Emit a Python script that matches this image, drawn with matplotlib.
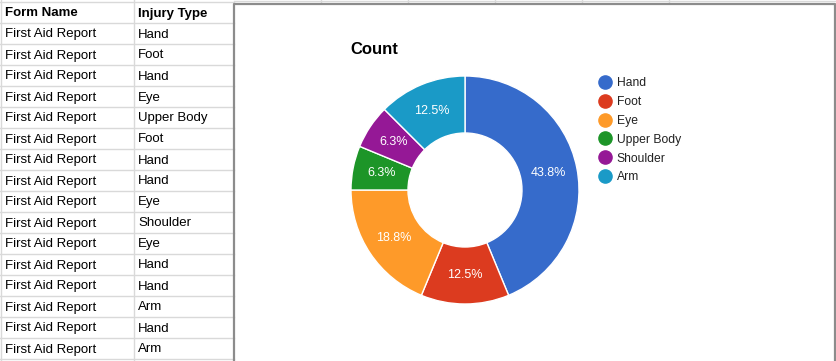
import numpy as np
import matplotlib.pyplot as plt
from matplotlib.lines import Line2D

plt.rcParams['font.family'] = ['Liberation Sans', 'DejaVu Sans']

# sheet data
col_headers = ['Form Name', 'Injury Type']
form_names = ['First Aid Report'] * 16
injury_types = ['Hand', 'Foot', 'Hand', 'Eye', 'Upper Body', 'Foot', 'Hand', 'Hand',
                'Eye', 'Shoulder', 'Eye', 'Hand', 'Hand', 'Arm', 'Hand', 'Arm']

# chart data
categories = ['Hand', 'Foot', 'Eye', 'Upper Body', 'Shoulder', 'Arm']
counts = [injury_types.count(c) for c in categories]
colors = ['#366bcb', '#dc3b1f', '#fe9a29', '#1d9528', '#951896', '#1a9ac7']

W, H = 836, 361
fig = plt.figure(figsize=(W/100, H/100), dpi=100)

# background axes in pixel coordinates for the spreadsheet grid
bg = fig.add_axes([0, 0, 1, 1])
bg.set_xlim(0, W)
bg.set_ylim(H, 0)
bg.axis('off')

grid_c = '#d9d9d9'
row_h = 21
top = 2
for k in range(len(form_names) + 2):
    y = top + k*row_h
    bg.plot([0, 234], [y, y], color=grid_c, lw=1)
for x in [0.5, 133.5]:
    bg.plot([x, x], [0, H], color=grid_c, lw=1)
# column lines above the chart
for x in [321, 408, 495, 582, 669]:
    bg.plot([x, x], [0, 3], color=grid_c, lw=1)
bg.plot([234, 836], [1, 1], color=grid_c, lw=1)

bg.text(5, top + row_h/2 + 1, col_headers[0], fontsize=9.5, fontweight='bold', va='center')
bg.text(138, top + row_h/2 + 1, col_headers[1], fontsize=9.5, fontweight='bold', va='center')
for i, (fn, it) in enumerate(zip(form_names, injury_types)):
    y = top + (i + 1.5)*row_h + 1
    bg.text(5, y, fn, fontsize=9.5, va='center')
    bg.text(138, y, it, fontsize=9.5, va='center')

# chart frame
bg.plot([234, 234, 835, 835], [H, 3.5, 3.5, H], color='#8c8c8c', lw=1.6)

bg.text(350, 49, 'Count', fontsize=12, fontweight='bold', va='center')

# donut
cx, cy, r = 465, 190, 114
ax = fig.add_axes([(cx - r)/W, (H - cy - r)/H, 2*r/W, 2*r/H])


def pct(p):
    return '%.1f%%' % (np.floor(p*10 + 0.5)/10)


wedges, texts, autotexts = ax.pie(counts, colors=colors, startangle=90, counterclock=False,
                                  autopct=pct, pctdistance=0.75,
                                  wedgeprops=dict(width=0.5, edgecolor='white', linewidth=1),
                                  textprops=dict(color='white', fontsize=9))
ax.set_xlim(-1, 1)
ax.set_ylim(-1, 1)
ax.axis('off')

handles = [Line2D([], [], marker='o', ls='', markersize=9.5, markerfacecolor=c,
                  markeredgecolor=c) for c in colors]
leg = fig.legend(handles, categories, loc='upper left', bbox_to_anchor=(593/W, 1 - 71/H),
                 frameon=False, fontsize=8.7, handletextpad=0.45, labelspacing=0.57,
                 handlelength=1.0, borderpad=0)
for t in leg.get_texts():
    t.set_color('#222222')

fig.savefig('out.png', dpi=100)
